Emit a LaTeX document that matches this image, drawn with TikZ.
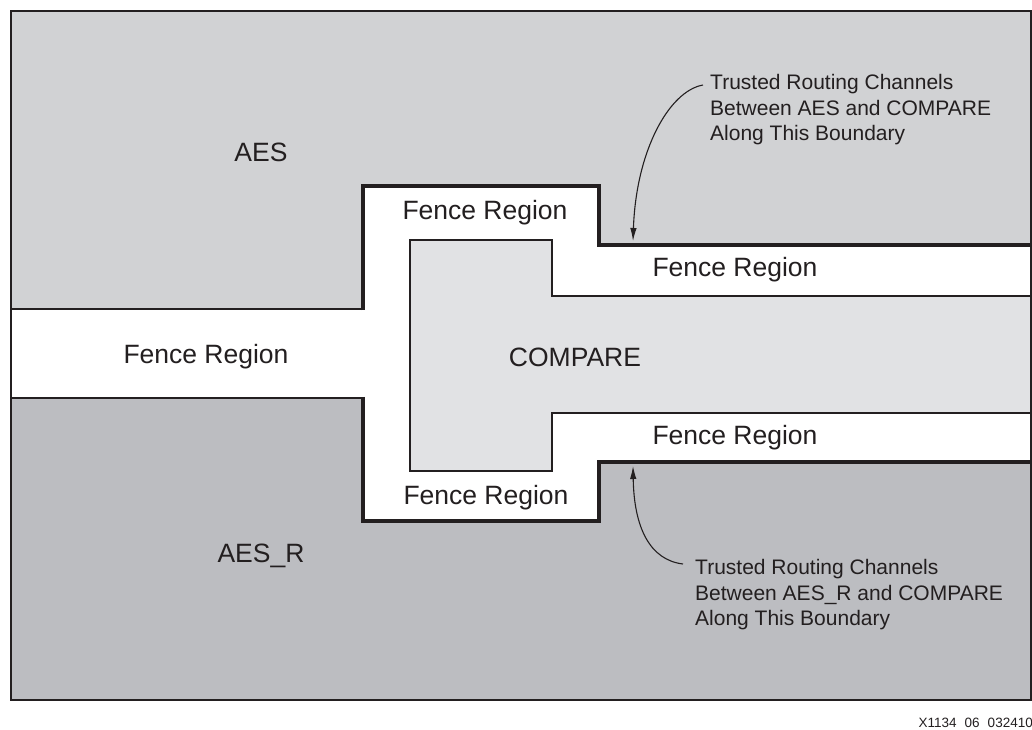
\documentclass[tikz,border=0pt]{standalone}
\usepackage{fontspec}
\setmainfont{Liberation Sans}
\usetikzlibrary{arrows.meta}
\definecolor{ink}{HTML}{231F20}
\definecolor{aesgray}{HTML}{D1D2D4}
\definecolor{aesrgray}{HTML}{BCBDC1}
\definecolor{cmpgray}{HTML}{E1E2E4}
\tikzset{
  label/.style={text=ink, inner sep=0pt, font=\fontsize{26.5}{30}\selectfont},
  note/.style={text=ink, inner sep=0pt, align=left, anchor=west, font=\fontsize{21}{25.5}\selectfont},
  thinline/.style={draw=ink, line width=2.3pt},
  fenceline/.style={draw=ink, line width=4.6pt, line join=miter},
  pointer/.style={draw=ink, line width=1.1pt, -{Latex[length=13pt,width=6.5pt]}}
}
\begin{document}
\begin{tikzpicture}[x=1pt,y=-1pt]
\useasboundingbox (0,0) rectangle (1032,729);
% AES and AES_R halves
\fill[aesgray] (11,11) rectangle (1031,354);
\fill[aesrgray] (11,354) rectangle (1031,700);
% fence region (white)
\fill[white] (11,309) -- (363,309) -- (363,186) -- (599,186) -- (599,245) -- (1031,245)
  -- (1031,462) -- (599,462) -- (599,521) -- (363,521) -- (363,398) -- (11,398) -- cycle;
% COMPARE block
\filldraw[fill=cmpgray, thinline] (410,240) -- (552,240) -- (552,296) -- (1031,296)
  -- (1031,413) -- (552,413) -- (552,471) -- (410,471) -- cycle;
% fence boundaries
\draw[thinline] (11,309) -- (364,309);
\draw[thinline] (11,398) -- (364,398);
\draw[fenceline] (363,310.2) -- (363,186) -- (599,186) -- (599,245) -- (1031,245);
\draw[fenceline] (363,396.8) -- (363,521) -- (599,521) -- (599,462) -- (1031,462);
% outer frame
\draw[ink, line width=2.4pt] (11,11) rectangle (1031,700);
% labels
\node[label] (aes) at (261,152) {AES};
\node[label] (aesr) at (261,556) {AES\_R};
\node[label] (fleft) at (206,357) {Fence Region};
\node[label] (ftop) at (485,213) {Fence Region};
\node[label] (fbot) at (486,498) {Fence Region};
\node[label] (fru) at (735,270) {Fence Region};
\node[label] (frl) at (735,438) {Fence Region};
\node[label] (cmp) at (575,357) {COMPARE};
% annotations
\node[note] (noteA) at (710,110) {Trusted Routing Channels\\Between AES and COMPARE\\Along This Boundary};
\node[note] (noteB) at (695,595) {Trusted Routing Channels\\Between AES\_R and COMPARE\\Along This Boundary};
\coordinate (tailA) at (703,85);
\coordinate (tipA) at (633,241);
\coordinate (tailB) at (683,564);
\coordinate (tipB) at (633,466);
\draw[pointer] (tailA) .. controls +(-34,6) and +(3,-90) .. (tipA);
\draw[pointer] (tailB) .. controls +(-33,-4) and +(1,62) .. (tipB);
% drawing number
\node[text=ink, inner sep=0pt, anchor=base east, font=\fontsize{13.5}{15}\selectfont] (docid) at (1033,727) {X1134\hspace{0.6em}06\hspace{0.6em}032410};
\end{tikzpicture}
\end{document}
